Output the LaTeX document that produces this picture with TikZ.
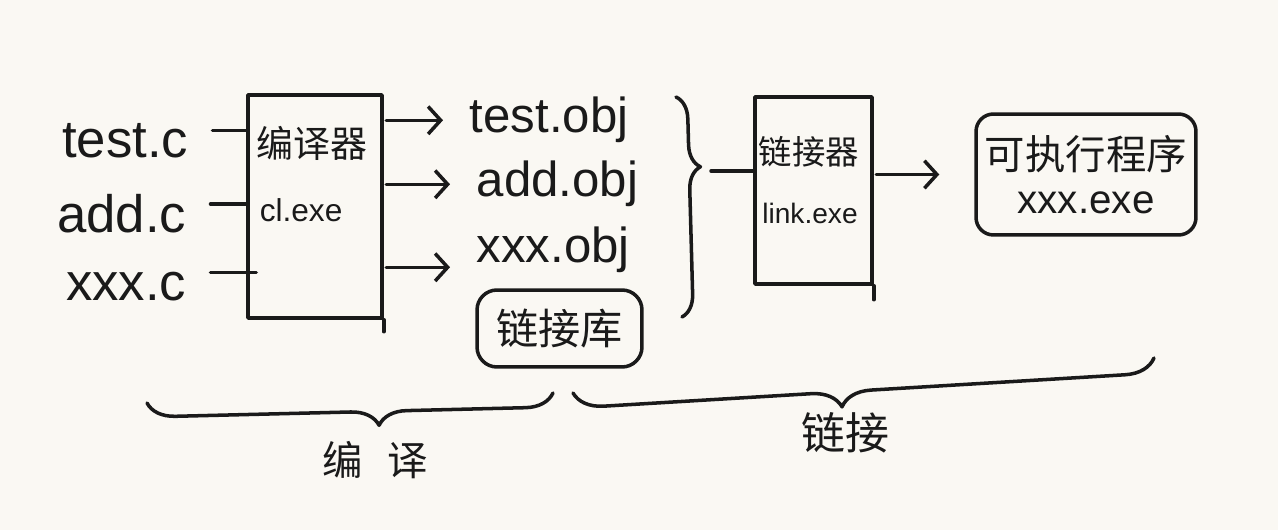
\documentclass[tikz,border=0pt]{standalone}
\usepackage{fontspec}
\setmainfont{Liberation Sans}
\newfontfamily\cjk{Noto Sans CJK SC}
\usepackage{tikz}
\usetikzlibrary{positioning,arrows.meta,decorations.pathreplacing}
\definecolor{paper}{HTML}{FAF8F3}
\definecolor{ink}{HTML}{1A1A1A}
\newcommand{\fsz}[1]{\fontsize{#1}{#1}\selectfont}

\begin{document}
\begin{tikzpicture}[
  x=0.02cm, y=-0.02cm,
  color=ink, line width=2pt, line cap=round, line join=round,
  lbl/.style={inner sep=0pt, text=ink},
  src/.style={lbl, anchor=base east, font=\fsz{30}},
  obj/.style={lbl, anchor=base west, font=\fsz{28}},
  cn/.style={lbl, font={\cjk\fsz{#1}}},
  tool/.style={draw=ink, inner sep=0pt},
  rbox/.style={draw=ink, rounded corners=0.35cm, inner sep=0pt, align=center},
  arr/.style={-{Straight Barb[length=2.5mm,width=5.5mm]}, shorten <=0.05cm, shorten >=0.5cm},
  wire/.style={shorten <=0.45cm}]
  \useasboundingbox (0,0) rectangle (1278,530);
  \fill[paper] (0,0) rectangle (1278,530);
  % sources -> compiler
  \node[src] (testc) at (190,158) {test.c};
  \node[src] (addc)  at (188,233) {add.c};
  \node[src] (xxxc)  at (188,300) {xxx.c};
  \node[tool, minimum width=2.68cm, minimum height=4.46cm] (compiler) at (315,206.5) {};
  \node[cn=21] (cltitle) at (312,143) {编译器};
  \node[lbl, anchor=west, font=\fsz{18}] (clexe) at (258,210) {cl.exe};
  \draw (compiler.south east) -- ++(0,12);
  \draw[wire] ([yshift=0.55cm]testc.base east) -- ([yshift=0.55cm]testc.base east -| compiler.west);
  \draw[wire] ([yshift=0.58cm]addc.base east) -- ([yshift=0.58cm]addc.base east -| compiler.west);
  \draw[wire, shorten >=-0.2cm] ([yshift=0.55cm]xxxc.base east) -- ([yshift=0.55cm]xxxc.base east -| compiler.west);
  % object files
  \node[obj] (testobj) at (468,133) {test.obj};
  \node[obj] (addobj)  at (475,197) {add.obj};
  \node[obj] (xxxobj)  at (475,263) {xxx.obj};
  \node[rbox, rounded corners=0.4cm, minimum width=3.3cm, minimum height=1.54cm, font={\cjk\fsz{24}}] (lib) at (559.5,328.5) {链接库};
  \draw[arr] (compiler.east |- testobj.west) -- (testobj.west);
  \draw[arr] (compiler.east |- addobj.west) -- (addobj.west);
  \draw[arr] ([yshift=-0.34cm]compiler.east |- xxxobj.west) -- ([yshift=-0.34cm]xxxobj.west);
  \draw[decorate, decoration={brace, amplitude=0.45cm, aspect=0.32}] (676,97) -- (682,317);
  \coordinate (objtip) at (711,171);
  % linker -> executable
  \node[tool, minimum width=2.34cm, minimum height=3.74cm] (linker) at (813.5,190.5) {};
  \node[cn=19] (lktitle) at (809,152) {链接器};
  \node[lbl, font=\fsz{16}] (lkexe) at (810,213) {link.exe};
  \draw (linker.south east) -- ++(0,14);
  \draw (objtip) -- (linker.west |- objtip);
  \node[rbox, minimum width=4.4cm, minimum height=2.42cm, font=\fsz{23}] (exe) at (1086,174.5) {{\cjk 可执行程序}\\[2pt]xxx.exe};
  \draw[arr, shorten >=0.7cm] (linker.east |- exe.west) -- (exe.west);
  % stages
  \draw[decorate, decoration={brace, mirror, amplitude=0.56cm, aspect=0.57}] (147,403) -- (553,393);
  \node[cn=23] (compilelbl) at (375,460) {编\hspace{0.5cm}译};
  \draw[decorate, decoration={brace, mirror, amplitude=0.6cm, aspect=0.46}] (573,393) -- (1154,358);
  \node[cn=25] (linklbl) at (845,433) {链接};
\end{tikzpicture}
\end{document}
